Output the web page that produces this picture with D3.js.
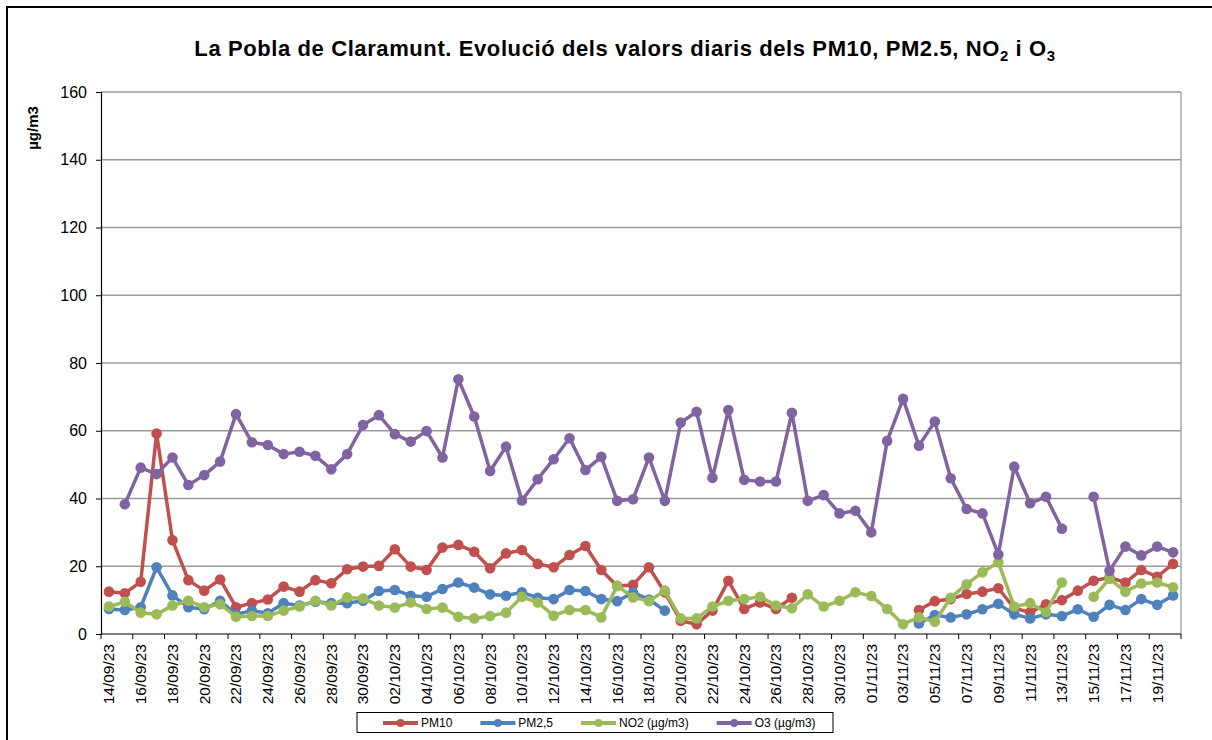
<!DOCTYPE html>
<html><head><meta charset="utf-8">
<script src="https://cdn.jsdelivr.net/npm/d3@7"></script>
<style>
html,body{margin:0;padding:0;background:#fff;}
svg{display:block;font-family:"Liberation Sans",Arial,sans-serif;}
</style></head>
<body>
<svg id="chart" width="1212" height="740"></svg>
<script>
const dates = [
"14/09/23","15/09/23","16/09/23","17/09/23","18/09/23","19/09/23","20/09/23","21/09/23","22/09/23","23/09/23",
"24/09/23","25/09/23","26/09/23","27/09/23","28/09/23","29/09/23","30/09/23","01/10/23","02/10/23","03/10/23",
"04/10/23","05/10/23","06/10/23","07/10/23","08/10/23","09/10/23","10/10/23","11/10/23","12/10/23","13/10/23",
"14/10/23","15/10/23","16/10/23","17/10/23","18/10/23","19/10/23","20/10/23","21/10/23","22/10/23","23/10/23",
"24/10/23","25/10/23","26/10/23","27/10/23","28/10/23","29/10/23","30/10/23","31/10/23","01/11/23","02/11/23",
"03/11/23","04/11/23","05/11/23","06/11/23","07/11/23","08/11/23","09/11/23","10/11/23","11/11/23","12/11/23",
"13/11/23","14/11/23","15/11/23","16/11/23","17/11/23","18/11/23","19/11/23","20/11/23"];

const pm10 = [12.5,12.0,15.4,59.2,27.7,15.9,12.8,16.1,7.9,9.1,10.2,14.0,
 12.5,15.9,15.0,19.1,19.9,20.1,25.0,19.9,18.9,25.5,26.3,
 24.3,19.4,23.8,24.8,20.7,19.7,23.3,26.0,18.9,14.2,14.5,19.7,
 12.3,3.9,2.9,6.9,15.7,7.4,9.3,7.4,10.7,
 null,null,null,null,null,null,null,
 7.1,9.7,10.3,11.8,12.5,13.5,
 7.6,6.4,8.8,10.0,12.8,15.7,16.7,15.2,18.9,16.9,20.7];

const pm25 = [7.4,7.1,7.9,19.7,11.4,7.9,7.3,9.8,5.8,6.9,6.1,9.1,
 8.4,9.5,9.1,9.1,9.8,12.7,13.0,11.3,11.0,13.3,15.2,
 13.7,11.7,11.3,12.3,10.7,10.3,13.0,12.7,10.3,9.7,12.2,10.2,
 6.9,
 null,null,null,null,null,null,null,null,null,null,null,null,null,null,null,
 3.1,5.6,4.9,5.8,7.3,8.9,
 5.8,4.6,5.8,5.3,7.3,5.1,8.6,7.1,10.3,8.6,11.4];

const no2 = [8.1,9.5,6.3,5.8,8.4,9.8,7.9,8.8,5.1,5.3,5.3,6.9,
 8.1,9.8,8.4,10.8,10.5,8.4,7.8,9.3,7.4,7.8,5.1,
 4.6,5.3,6.3,11.0,9.3,5.4,7.1,7.1,4.9,14.2,10.8,9.7,
 12.8,4.6,4.6,8.1,9.8,10.3,11.0,8.4,7.6,11.7,8.1,
 9.8,12.3,11.2,7.4,2.9,4.9,3.6,10.7,14.7,18.2,21.2,
 8.1,9.1,6.4,15.2,null,11.0,16.3,12.5,14.9,15.2,13.8];

const o3 = [null,38.3,49.1,47.2,52.1,44.0,46.9,50.9,64.9,56.6,55.8,53.1,
 53.8,52.6,48.6,53.1,61.7,64.6,59.0,56.8,59.9,52.1,75.2,
 64.2,48.1,55.3,39.4,45.7,51.6,57.8,48.4,52.3,39.3,39.8,52.1,
 39.3,62.4,65.6,46.1,66.1,45.5,45.0,45.0,65.3,39.3,41.0,
 35.6,36.4,30.0,57.0,69.4,55.6,62.7,46.0,36.9,35.6,23.5,
 49.4,38.6,40.5,31.1,null,40.5,18.7,25.8,23.2,25.8,24.1];

const seriesNames = ["PM10","PM2,5","NO2 (µg/m3)","O3 (µg/m3)"];
const seriesValues = [pm10, pm25, no2, o3];
const seriesColors = ["#C0504D","#4F81BD","#9BBB59","#8064A2"];
const yTicks = [0,20,40,60,80,100,120,140,160];

const svg = d3.select("#chart");
const M = {left:101, right:1181, top:92, bottom:634};

// outer frame
svg.append("rect").attr("x",7).attr("y",7).attr("width",1240).attr("height",760)
  .attr("fill","none").attr("stroke","#000").attr("stroke-width",2);

const x = d3.scaleBand().domain(dates).range([M.left, M.right]).padding(0);
const y = d3.scaleLinear().domain([0,160]).range([M.bottom, M.top]);

// gridlines
svg.append("g").selectAll("line").data(yTicks.filter(d=>d>0)).join("line")
  .attr("x1",M.left).attr("x2",M.right)
  .attr("y1",d=>y(d)).attr("y2",d=>y(d))
  .attr("stroke","#9a9a9a").attr("stroke-width",1.3);
svg.append("line").attr("x1",M.right).attr("x2",M.right).attr("y1",M.top).attr("y2",M.bottom)
  .attr("stroke","#9a9a9a").attr("stroke-width",1.3);

// Y axis
const yAxis = d3.axisLeft(y).tickValues(yTicks).tickSize(5).tickPadding(9);
const gy = svg.append("g").attr("transform",`translate(${M.left},0)`).call(yAxis);
gy.select(".domain").attr("stroke","#000").attr("stroke-width",1.2);
gy.selectAll(".tick line").attr("stroke","#000");
gy.selectAll("text").attr("font-size",16).attr("fill","#000")
  .attr("font-family","Liberation Sans, Arial, sans-serif");

// X axis
const bw = x.bandwidth();
svg.append("line").attr("x1",M.left).attr("x2",M.right).attr("y1",M.bottom).attr("y2",M.bottom)
  .attr("stroke","#000").attr("stroke-width",1.2);
const tickIdx = d3.range(0, dates.length + 1, 2);
svg.append("g").selectAll("line").data(tickIdx).join("line")
  .attr("x1",i=>M.left + i*bw).attr("x2",i=>M.left + i*bw)
  .attr("y1",M.bottom).attr("y2",M.bottom+5)
  .attr("stroke","#000").attr("stroke-width",1);
svg.append("g").selectAll("text").data(dates.filter((d,i)=>i%2===0)).join("text")
  .attr("transform",d=>`translate(${x(d)+bw/2},${M.bottom+10}) rotate(-90)`)
  .attr("text-anchor","end").attr("dy","0.35em")
  .attr("font-size",15.5).attr("fill","#000").text(d=>d);

// Y label
svg.append("text").attr("transform","translate(38,128) rotate(-90)")
  .attr("text-anchor","middle").attr("font-size",15).attr("font-weight","bold").text("µg/m3");

// Title
const title = svg.append("text").attr("x",625).attr("y",56).attr("text-anchor","middle")
  .attr("font-size",22).attr("font-weight","bold").attr("letter-spacing",0.6);
title.append("tspan").text("La Pobla de Claramunt. Evolució dels valors diaris dels PM10, PM2.5, NO");
title.append("tspan").attr("font-size",15).attr("dy",5).text("2");
title.append("tspan").attr("dy",-5).text(" i O");
title.append("tspan").attr("font-size",15).attr("dy",5).text("3");

// Series
seriesValues.forEach((vals, s) => {
  const pts = vals.map((v,i)=>({v, i}));
  const line = d3.line().defined(d=>d.v!==null)
    .x(d=>x(dates[d.i])+bw/2).y(d=>y(d.v));
  const g = svg.append("g");
  g.append("path").datum(pts).attr("d",line).attr("fill","none")
    .attr("stroke",seriesColors[s]).attr("stroke-width",3.5).attr("stroke-linejoin","round");
  g.selectAll("circle").data(pts.filter(d=>d.v!==null)).join("circle")
    .attr("cx",d=>x(dates[d.i])+bw/2).attr("cy",d=>y(d.v)).attr("r",5.3)
    .attr("fill",seriesColors[s]);
});

// Legend
const lg = svg.append("g");
const ly = 723;
let cx = 383;
seriesNames.forEach((n,s)=>{
  const it = lg.append("g");
  it.append("line").attr("x1",cx).attr("x2",cx+35).attr("y1",ly).attr("y2",ly)
    .attr("stroke",seriesColors[s]).attr("stroke-width",4);
  it.append("circle").attr("cx",cx+17.5).attr("cy",ly).attr("r",4).attr("fill",seriesColors[s]);
  const t = it.append("text").attr("x",cx+38).attr("y",ly).attr("dy","0.35em")
    .attr("font-size",12).text(n);
  cx = cx + 38 + t.node().getComputedTextLength() + 28;
});
lg.insert("rect",":first-child").attr("x",357).attr("y",712.5).attr("width",476).attr("height",20)
  .attr("fill","#fff").attr("stroke","#000").attr("stroke-width",1);
</script>
</body></html>
